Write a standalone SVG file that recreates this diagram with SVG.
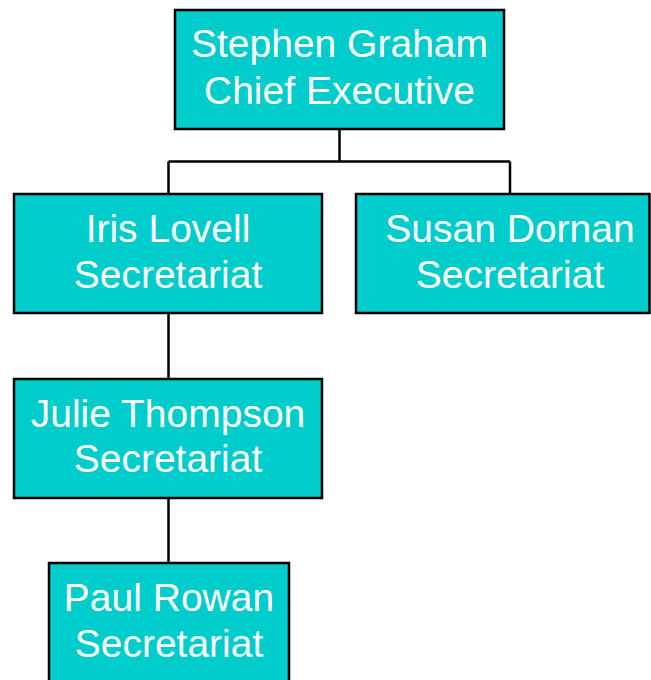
<svg xmlns="http://www.w3.org/2000/svg" width="651" height="680" viewBox="0 0 651 680">
<style>
.box{fill:#00CCCC;stroke:#000;stroke-width:2.5}
.t{font-family:"Liberation Sans",Arial,sans-serif;font-size:39px;fill:#fff;text-anchor:middle}
.c{fill:none;stroke:#000;stroke-width:2.5}
</style>
<rect width="651" height="680" fill="#fff"/>
<g id="connectors">
<path class="c" d="M339.5 129V161.5M168.5 161.5H510M168.5 161.5V194M510 161.5V194M168.5 313V379M168.5 498V563"/>
</g>
<g id="n1"><rect class="box" x="175" y="10" width="329" height="119"/>
<text class="t" x="339.5" y="57">Stephen Graham</text><text class="t" x="339.5" y="104">Chief Executive</text></g>
<g id="n2"><rect class="box" x="14" y="194" width="308" height="119"/>
<text class="t" x="168" y="242">Iris Lovell</text><text class="t" x="168" y="288">Secretariat</text></g>
<g id="n3"><rect class="box" x="356" y="194" width="293.5" height="119"/>
<text class="t" x="510" y="242">Susan Dornan</text><text class="t" x="510" y="288">Secretariat</text></g>
<g id="n4"><rect class="box" x="14" y="379" width="308" height="119"/>
<text class="t" x="168" y="427">Julie Thompson</text><text class="t" x="168" y="472">Secretariat</text></g>
<g id="n5"><rect class="box" x="49" y="563" width="240" height="119"/>
<text class="t" x="169" y="611">Paul Rowan</text><text class="t" x="169" y="657">Secretariat</text></g>
</svg>
